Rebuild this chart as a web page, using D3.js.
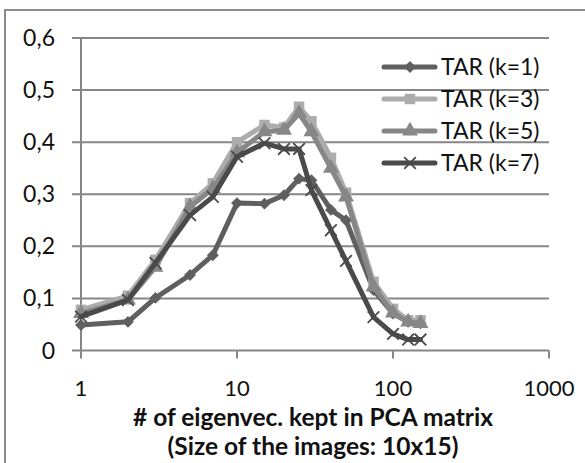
<!DOCTYPE html>
<html lang="en">
<head>
    <meta charset="UTF-8">
    <title>TAR vs eigenvectors kept</title>
    <script src="https://d3js.org/d3.v7.min.js"></script>
    <style>
        body { margin: 0; background: #fff; }
        svg { display: block; font-family: Lato, "Open Sans", sans-serif; }
    </style>
</head>
<body>
    <div id="chart"></div>
    <script>
        // number of eigenvectors kept (log axis)
        const eigenvecs = [1, 2, 3, 5, 7, 10, 15, 20, 25, 30, 40, 50, 75, 100, 125, 150];

        const tarK1 = [0.049, 0.055, 0.101, 0.145, 0.183, 0.283, 0.282, 0.298, 0.330, 0.327, 0.270, 0.250, 0.116, 0.071, 0.055, 0.052];
        const tarK3 = [0.078, 0.105, 0.174, 0.283, 0.321, 0.400, 0.433, 0.428, 0.468, 0.440, 0.370, 0.303, 0.132, 0.080, 0.058, 0.058];
        const tarK5 = [0.071, 0.097, 0.160, 0.276, 0.311, 0.380, 0.420, 0.423, 0.455, 0.420, 0.350, 0.295, 0.122, 0.072, 0.055, 0.052];
        const tarK7 = [0.065, 0.097, 0.168, 0.260, 0.295, 0.372, 0.398, 0.387, 0.387, 0.308, 0.231, 0.172, 0.064, 0.032, 0.021, 0.021];

        const seriesNames = ["TAR (k=1)", "TAR (k=3)", "TAR (k=5)", "TAR (k=7)"];
        const yTicks = [0, 0.1, 0.2, 0.3, 0.4, 0.5, 0.6];
        const xTicks = [1, 10, 100, 1000];

        const width = 585, height = 463;
        const plot = { left: 81, right: 549, top: 38, bottom: 350.5 };

        const series = [
            { name: seriesNames[0], values: tarK1, color: "#5f5f5f", marker: "diamond" },
            { name: seriesNames[1], values: tarK3, color: "#acacac", marker: "square" },
            { name: seriesNames[2], values: tarK5, color: "#878787", marker: "triangle" },
            { name: seriesNames[3], values: tarK7, color: "#4a4a4a", marker: "cross" }
        ];

        const svg = d3.select("#chart").append("svg")
            .attr("width", width)
            .attr("height", height);

        // outer frame (right and bottom edges fall outside the window)
        svg.append("rect")
            .attr("x", 5).attr("y", 10)
            .attr("width", 600).attr("height", 500)
            .attr("fill", "none")
            .attr("stroke", "#8c8c8c")
            .attr("stroke-width", 2);

        const x = d3.scaleLog().domain([1, 1000]).range([plot.left, plot.right]);
        const y = d3.scaleLinear().domain([0, 0.6]).range([plot.bottom, plot.top]);

        const axisColor = "#868686";

        // horizontal gridlines + y ticks
        svg.append("g").selectAll("line")
            .data(yTicks)
            .join("line")
            .attr("x1", plot.left - 9).attr("x2", plot.right)
            .attr("y1", d => y(d)).attr("y2", d => y(d))
            .attr("stroke", axisColor)
            .attr("stroke-width", 2);

        // y axis line
        svg.append("line")
            .attr("x1", x(1)).attr("x2", x(1))
            .attr("y1", plot.top).attr("y2", plot.bottom + 8)
            .attr("stroke", axisColor).attr("stroke-width", 2);

        // x ticks
        svg.append("g").selectAll("line")
            .data(xTicks.slice(1))
            .join("line")
            .attr("x1", d => x(d)).attr("x2", d => x(d))
            .attr("y1", plot.bottom).attr("y2", plot.bottom + 8)
            .attr("stroke", axisColor).attr("stroke-width", 2);

        const fmt = d => d === 0 ? "0" : d3.format(".1f")(d).replace(".", ",");

        svg.append("g").selectAll("text")
            .data(yTicks)
            .join("text")
            .attr("x", 55)
            .attr("y", d => y(d))
            .attr("dy", "0.35em")
            .attr("text-anchor", "end")
            .attr("font-size", 23)
            .attr("fill", "#111")
            .text(fmt);

        svg.append("g").selectAll("text")
            .data(xTicks)
            .join("text")
            .attr("x", d => x(d))
            .attr("y", 396)
            .attr("text-anchor", "middle")
            .attr("font-size", 22)
            .attr("fill", "#111")
            .text(d => d);

        // axis title
        const title = svg.append("text")
            .attr("x", 313)
            .attr("text-anchor", "middle")
            .attr("font-size", 24.5)
            .attr("font-weight", "bold")
            .attr("fill", "#111");
        title.append("tspan").attr("x", 313).attr("y", 426).text("# of eigenvec. kept in PCA matrix");
        title.append("tspan").attr("x", 313).attr("y", 455).text("(Size of the images: 10x15)");

        function drawMarker(g, type, color) {
            if (type === "diamond") {
                g.append("path").attr("d", d3.symbol(d3.symbolDiamond2, 90)()).attr("fill", color);
            } else if (type === "square") {
                g.append("path").attr("d", d3.symbol(d3.symbolSquare, 110)()).attr("fill", color);
            } else if (type === "triangle") {
                g.append("path").attr("d", d3.symbol(d3.symbolTriangle, 110)()).attr("fill", color);
            } else {
                g.append("path").attr("d", d3.symbol(d3.symbolTimes, 90)())
                    .attr("fill", "none").attr("stroke", color).attr("stroke-width", 1.8);
            }
        }

        const line = d3.line()
            .x((d, i) => x(eigenvecs[i]))
            .y(d => y(d));

        series.forEach(s => {
            const g = svg.append("g");
            g.append("path")
                .datum(s.values)
                .attr("d", line)
                .attr("fill", "none")
                .attr("stroke", s.color)
                .attr("stroke-width", 5)
                .attr("stroke-linejoin", "round")
                .attr("stroke-linecap", "round");
            s.values.forEach((v, i) => {
                const m = g.append("g").attr("transform", `translate(${x(eigenvecs[i])},${y(v)})`);
                drawMarker(m, s.marker, s.color);
            });
        });

        // legend
        const legend = svg.append("g");
        series.forEach((s, i) => {
            const ly = 67 + i * 32;
            const row = legend.append("g");
            row.append("line")
                .attr("x1", 384).attr("x2", 435)
                .attr("y1", ly).attr("y2", ly)
                .attr("stroke", s.color)
                .attr("stroke-width", 5)
                .attr("stroke-linecap", "round");
            const m = row.append("g").attr("transform", `translate(410,${ly})`);
            drawMarker(m, s.marker, s.color);
            row.append("text")
                .attr("x", 441)
                .attr("y", ly)
                .attr("dy", "0.35em")
                .attr("font-size", 23)
                .attr("fill", "#111")
                .text(s.name);
        });
    </script>
</body>
</html>
